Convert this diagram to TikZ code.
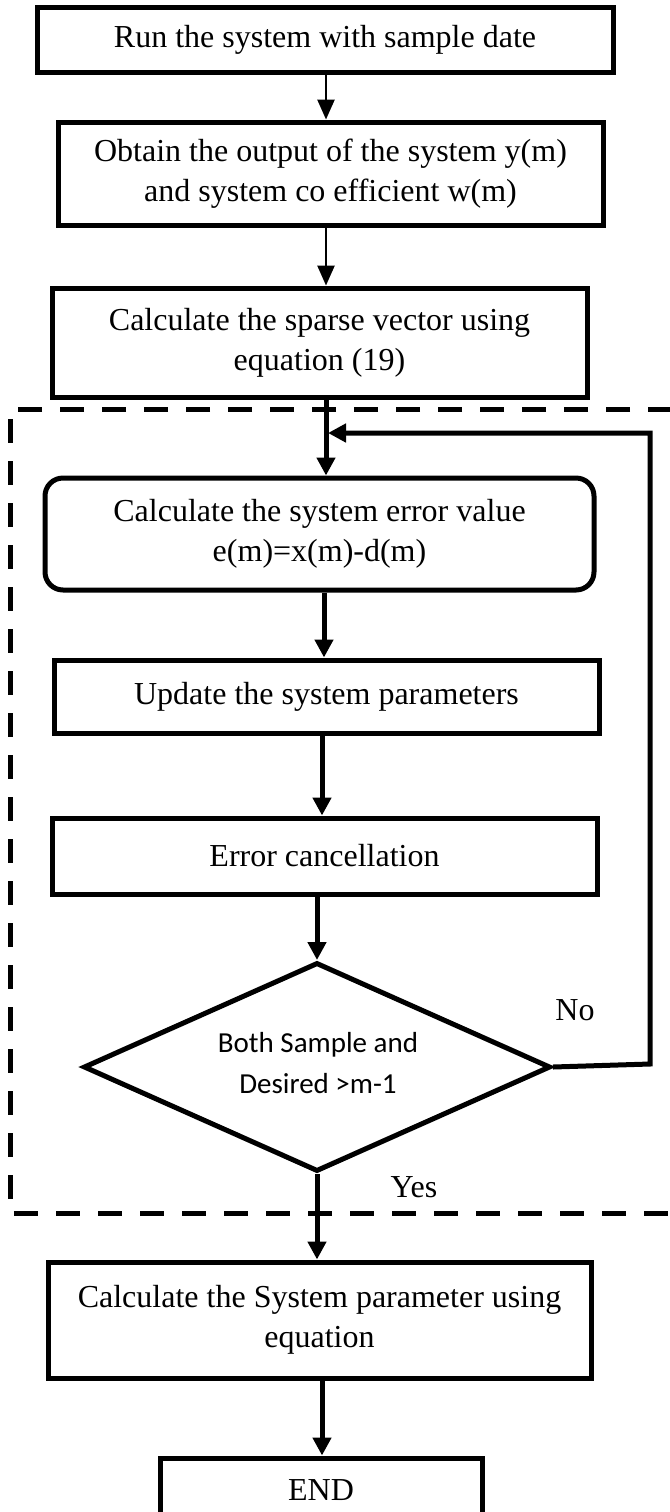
\documentclass[tikz,border=0pt]{standalone}
\usepackage{fontspec}
\setmainfont{Liberation Serif}
\newfontfamily\diafont{Carlito}
\usetikzlibrary{shapes.geometric,arrows.meta}
\begin{document}
\begin{tikzpicture}[x=0.5pt,y=-0.5pt,
  box/.style={draw, line width=2.5pt, align=center, inner sep=0pt, font=\fontsize{16}{20}\selectfont},
  rbox/.style={box, rounded corners=9pt},
  dia/.style={draw, diamond, line width=2.5pt, inner sep=0pt},
  diatext/.style={align=center, inner sep=0pt, font=\diafont\fontsize{14.5}{20.5}\selectfont},
  lbl/.style={font=\fontsize{16}{20}\selectfont, inner sep=0pt},
  arr/.style={-{Triangle[length=10pt,width=8.5pt]}, line width=1.3pt},
  tarr/.style={-{Triangle[length=9pt,width=9pt]}, line width=2.5pt},
  frame/.style={line width=2.5pt, dash pattern=on 12pt off 9pt}]
\useasboundingbox (0,0) rectangle (670,1512);
\clip (0,0) rectangle (670,1512);
% dashed frame
\draw[frame] (672,409) -- (10,409) -- (10,1213) -- (672,1213);
% nodes
\node[box, minimum width=288pt, minimum height=32.5pt] (b1) at (325,39.5) {Run the system with sample date};
\node[box, minimum width=272.5pt, minimum height=51.5pt] (b2) at (330.5,173.5) {Obtain the output of the system y(m)\\and system co efficient w(m)};
\node[box, minimum width=267.5pt, minimum height=54.5pt] (b3) at (319.5,342.5) {Calculate the sparse vector using\\equation (19)};
\node[rbox, minimum width=274.5pt, minimum height=56pt] (b4) at (319.5,534) {Calculate the system error value\\e(m)=x(m)-d(m)};
\node[box, minimum width=272.5pt, minimum height=36.5pt] (b5) at (326.5,696.5) {Update the system parameters};
\node[box, minimum width=272.5pt, minimum height=38pt] (b6) at (324.5,856) {Error cancellation};
\node[dia, minimum width=233.5pt, minimum height=104.5pt] (d1) at (317,1067) {};
\node[diatext] (d1t) at (318,1063) {Both Sample and\\Desired >m-1};
\node[box, minimum width=271.5pt, minimum height=58pt] (b7) at (319.5,1320) {Calculate the System parameter using\\equation};
\node[box, minimum width=161pt, minimum height=32pt] (b8) at (321,1490) {END};
\node[lbl] (no) at (575,1010) {No};
\node[lbl] (yes) at (414,1187) {Yes};
% arrow columns
\coordinate (xa) at (326,0);
\coordinate (xb) at (324,0);
\coordinate (xc) at (322,0);
% connectors
\draw[arr] (b1.south -| xa) -- (b2.north -| xa);
\draw[arr] (b2.south -| xa) -- (b3.north -| xa);
\draw[tarr] (b3.south -| xa) -- (b4.north -| xa);
\draw[tarr] (b4.south -| xb) -- (b5.north -| xb);
\draw[tarr] (b5.south -| xc) -- (b6.north -| xc);
\draw[tarr] (b6.south -| d1.north) -- (d1.north);
\draw[tarr] (d1.south) -- (b7.north -| d1.south);
\draw[tarr] (b7.south -| xc) -- (b8.north -| xc);
% loop back
\coordinate (lpA) at (650,1064);
\coordinate (lpB) at (650,433);
\coordinate (lpC) at (328,433);
\draw[tarr, line join=miter] (d1.east) -- (lpA) -- (lpB) -- (lpC);
\end{tikzpicture}
\end{document}
